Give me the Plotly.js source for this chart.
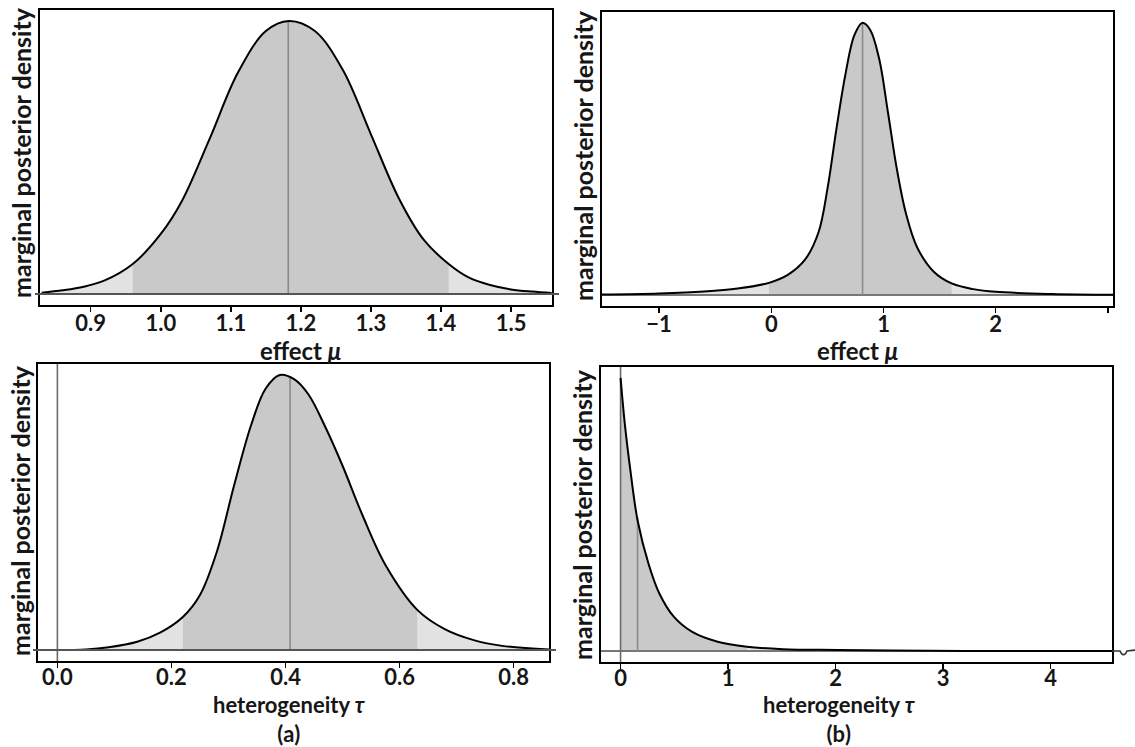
<!DOCTYPE html>
<html><head><meta charset="utf-8">
<script src="https://cdn.plot.ly/plotly-3.0.1.min.js"></script>
<style>html,body{margin:0;padding:0;background:#fff}</style>
</head><body><div id="chart" style="width:1135px;height:747px"></div>
<script>
// (a) top: effect mu
const muA_x = [0.83,0.86,0.89,0.92,0.96,1.00,1.03,1.07,1.11,1.15,1.183,1.22,1.26,1.30,1.34,1.375,1.411,1.44,1.47,1.50,1.53,1.558];
const muA_y = [0.005,0.014,0.027,0.05,0.11,0.22,0.34,0.57,0.81,0.963,1.0,0.963,0.82,0.585,0.35,0.2,0.11,0.06,0.033,0.017,0.009,0.004];
// (b) top: effect mu
const muB_x = [-1.51,-1.0,-0.6,-0.3,-0.021,0.15,0.3,0.42,0.5,0.58,0.66,0.74,0.81,0.88,0.96,1.04,1.12,1.2,1.3,1.45,1.607,1.8,2.0,2.5,3.05];
const muB_y = [0.002,0.006,0.013,0.024,0.045,0.075,0.13,0.23,0.39,0.61,0.81,0.955,1.0,0.975,0.87,0.67,0.46,0.3,0.175,0.085,0.043,0.022,0.012,0.004,0.001];
// (a) bottom: heterogeneity tau
const tauA_x = [0,0.05,0.09,0.14,0.18,0.22,0.25,0.28,0.31,0.34,0.365,0.39,0.415,0.44,0.47,0.50,0.535,0.575,0.631,0.68,0.73,0.78,0.862];
const tauA_y = [0,0.002,0.01,0.03,0.063,0.12,0.2,0.36,0.6,0.82,0.95,1.0,0.985,0.93,0.81,0.67,0.49,0.31,0.146,0.075,0.036,0.015,0.002];
// (b) bottom: heterogeneity tau
const tauB_x = [0,0.04,0.092,0.159,0.26,0.362,0.497,0.667,0.903,1.174,1.51,2.02,2.87,3.6,4.572];
const tauB_y = [1.0,0.83,0.66,0.477,0.32,0.21,0.125,0.07,0.034,0.016,0.007,0.004,0.001,0.0005,0.0002];

// 95% intervals, medians and curve height at median
const intervals = [[0.96,1.411],[-0.021,1.607],[0.22,0.631],[0,1.174]];
const medians = [1.182,0.813,0.408,0.158];
const medianHeights = [1.0,1.0,0.99,0.49];

const tickVals = [[0.9,1.0,1.1,1.2,1.3,1.4,1.5],[-1,0,1,2,3],[0.0,0.2,0.4,0.6,0.8],[0,1,2,3,4]];
const tickText = [["0.9","1.0","1.1","1.2","1.3","1.4","1.5"],["\u22121","0","1","2",""],["0.0","0.2","0.4","0.6","0.8"],["0","1","2","3","4"]];
const xTitles = ["effect <i>\u03bc</i>","effect <i>\u03bc</i>","heterogeneity <i>\u03c4</i>","heterogeneity <i>\u03c4</i>"];
const panelLabels = ["","","(a)","(b)"];
const yTitle = "marginal posterior density";

const W = 1135, H = 747;
const boxes = [[40,552,10,305],[602,1113,12,306],[38,549,364,661],[601,1112,367,662]]; // px l,r,t,b
const xTitlePos = [[300,350],[857,350],[289,719],[839,719]];
const yTitlePos = [[21,153],[583,156],[20,511],[582,515]];
const tickStandoff = [-7,-7,-9,-9];
const xRanges = [[0.8276,1.5585],[-1.509,3.045],[-0.034,0.862],[-0.182,4.572]];
const yRange = [-0.04,1.04];
const zeroLine = [false,false,true,true];

const series = [[muA_x,muA_y],[muB_x,muB_y],[tauA_x,tauA_y],[tauB_x,tauB_y]];
const FAM = "Lato, 'Open Sans', sans-serif";
const TICKFONT = {family:FAM, size:22, color:"#161616", weight:"bold"};
const TITLEFONT = {family:FAM, size:24, color:"#161616", weight:"bold"};
const BLOCKFONT = {family:FAM, size:22, color:"#161616", weight:"bold"};
const YTFONT = {family:FAM, size:25, color:"#161616", weight:"bold"};
const px = v => v/W, py = v => 1-v/H;

const traces = [];
const layout = {width:W,height:H,margin:{l:0,r:0,t:0,b:0},paper_bgcolor:"#fff",plot_bgcolor:"#fff",
  showlegend:false,shapes:[],annotations:[],font:TICKFONT};
const SM = 1.0;

series.forEach(([xs,ys],i)=>{
  const sx = i===0?'':String(i+1);
  const xa='x'+sx, ya='y'+sx;
  const [lo,hi]=intervals[i];
  const dx=[],dy=[];
  xs.forEach((v,k)=>{ if(v>=lo-1e-9 && v<=hi+1e-9){dx.push(v);dy.push(ys[k]);} });
  traces.push({x:xs,y:ys,xaxis:xa,yaxis:ya,type:'scatter',mode:'lines',fill:'tozeroy',fillcolor:'#e2e2e2',line:{width:0,shape:'spline',smoothing:SM},hoverinfo:'skip'});
  traces.push({x:dx,y:dy,xaxis:xa,yaxis:ya,type:'scatter',mode:'lines',fill:'tozeroy',fillcolor:'#c9c9c9',line:{width:0,shape:'spline',smoothing:SM},hoverinfo:'skip'});
  traces.push({x:xRanges[i],y:[0,0],xaxis:xa,yaxis:ya,type:'scatter',mode:'lines',line:{color:'#777',width:2},hoverinfo:'skip'});
  traces.push({x:[medians[i],medians[i]],y:[0,medianHeights[i]],xaxis:xa,yaxis:ya,type:'scatter',mode:'lines',line:{color:'#8a8a8a',width:1.6},hoverinfo:'skip'});
  if(zeroLine[i]) traces.push({x:[0,0],y:yRange,xaxis:xa,yaxis:ya,type:'scatter',mode:'lines',line:{color:'#6a6a6a',width:1.6},hoverinfo:'skip'});
  traces.push({x:xs,y:ys,xaxis:xa,yaxis:ya,type:'scatter',mode:'lines',line:{color:'#000',width:2,shape:'spline',smoothing:SM}});

  const [l,r,t,b]=boxes[i];
  const xd=[px(l),px(r)], yd=[py(b),py(t)];
  layout['xaxis'+sx]={domain:xd,range:xRanges[i],anchor:ya,showline:true,mirror:true,linecolor:'#000',linewidth:2,
    ticks:'outside',ticklen:5,tickwidth:1.5,tickcolor:'#000',tickvals:tickVals[i],ticktext:tickText[i],tickfont:TICKFONT,
    ticklabelstandoff:tickStandoff[i],showgrid:false,zeroline:false,fixedrange:true};
  layout['yaxis'+sx]={domain:yd,range:yRange,anchor:xa,showline:true,mirror:true,linecolor:'#000',linewidth:2,
    ticks:'',showticklabels:false,showgrid:false,zeroline:false,fixedrange:true};
  if(panelLabels[i]){
    // two-line block: axis title with the panel label underneath
    layout.annotations.push({text:xTitles[i]+'<br>'+panelLabels[i],
      xref:'paper',yref:'paper',x:px(xTitlePos[i][0]),y:py(xTitlePos[i][1]),
      showarrow:false,font:BLOCKFONT,align:'center',xanchor:'center',yanchor:'middle'});
  } else {
    layout.annotations.push({text:xTitles[i],xref:'paper',yref:'paper',x:px(xTitlePos[i][0]),y:py(xTitlePos[i][1]),
      showarrow:false,font:TITLEFONT,xanchor:'center',yanchor:'middle'});
  }
  layout.annotations.push({text:yTitle,xref:'paper',yref:'paper',x:px(yTitlePos[i][0]),y:py(yTitlePos[i][1]),
    textangle:-90,showarrow:false,font:YTFONT,xanchor:'center',yanchor:'middle'});
  const y0p = yd[0]+(0-yRange[0])/(yRange[1]-yRange[0])*(yd[1]-yd[0]);
  // baseline extension beyond the box for the left panels
  if(i===0||i===2){
    layout.shapes.push({type:'line',xref:'paper',yref:'paper',x0:xd[0]-5/W,x1:xd[1]+7/W,y0:y0p,y1:y0p,line:{color:'#555',width:2},layer:'above'});
  }
  if(i===3){
    const yb = (1-y0p)*H;
    const p = (a,b)=> `${px(a)},${py(b)}`;
    layout.shapes.push({type:'path',xref:'paper',yref:'paper',
      path:`M${p(r,yb)} L${p(r+8,yb)} C${p(r+10,yb+5)} ${p(r+13,yb+5)} ${p(r+15,yb)} L${p(1135,yb-1)}`,
      line:{color:'#333',width:1.6},layer:'above'});
  }
});

Plotly.newPlot('chart',traces,layout,{displayModeBar:false,staticPlot:true});
</script></body></html>
